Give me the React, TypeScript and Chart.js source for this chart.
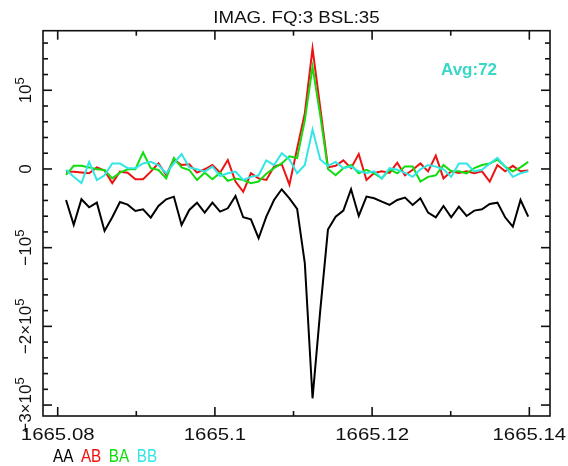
import React, { useEffect, useRef } from "react";
import { Chart, registerables } from "chart.js";

Chart.register(...registerables);

// ---------- data ----------
const FREQ = [
  1665.08106, 1665.08204, 1665.08302, 1665.084, 1665.08498, 1665.08596, 1665.08694, 1665.08792,
  1665.0889, 1665.08988, 1665.09086, 1665.09184, 1665.09282, 1665.0938, 1665.09478, 1665.09576,
  1665.09674, 1665.09772, 1665.0987, 1665.09968, 1665.10066, 1665.10164, 1665.10262, 1665.1036,
  1665.10458, 1665.10556, 1665.10654, 1665.10752, 1665.1085, 1665.10948, 1665.11046, 1665.11144,
  1665.11242, 1665.1134, 1665.11438, 1665.11536, 1665.11634, 1665.11732, 1665.1183, 1665.11928,
  1665.12026, 1665.12124, 1665.12222, 1665.1232, 1665.12418, 1665.12516, 1665.12614, 1665.12712,
  1665.1281, 1665.12908, 1665.13006, 1665.13104, 1665.13202, 1665.133, 1665.13398, 1665.13496,
  1665.13594, 1665.13692, 1665.1379, 1665.13888, 1665.13986,
];

const AA = [
  -39400, -71000, -38500, -48700, -42800, -78800, -61400, -41900, -45300, -53400, -51300, -61800,
  -47000, -38500, -35200, -71200, -52100, -42800, -55500, -42800, -54200, -50000, -34300, -61400,
  -64000, -88000, -60600, -39400, -25800, -37300, -50800, -120000, -291400, -180000, -77000, -60600,
  -52900, -25800, -59700, -35100, -37300, -41500, -45700, -39400, -36400, -45700, -37300, -55500,
  -61400, -47000, -61400, -47900, -59700, -52900, -51300, -44500, -42800, -61400, -73300, -39400,
  -60600,
];

const AB = [
  -3400, -3400, -4500, -5500, 2000, -2000, -18000, -3400, -4700, -13000, -13000, -3400,
  7200, -7600, 12000, 5000, 6000, -4700, -400, 5000, -4700, 11400, -16000, -29000,
  -5500, -12000, -14000, 3000, 6000, -20000, 26000, 71000, 153000, 78000, 2000, 4000,
  11000, 1000, 19000, -14000, -5000, -3000, -5000, 8000, -8000, -1000, 7000, -3000,
  17000, -12000, -3000, -5000, -3000, -5500, -3000, -16000, 5000, -3000, 4000, -3000,
  -2000,
];

const BA = [
  -7600, 4000, 4000, 2000, -400, -1300, -12000, -4700, -400, -400, 21000, 1000,
  -1300, -12000, 14000, 2000, -1300, -14000, -4700, -13000, -4700, -15000, -12000, -14000,
  -18000, -16000, -6000, 1000, 7000, 16000, 14000, 62000, 130000, 68000, 0, -8000,
  1000, 5000, -5500, -1000, -5500, -12000, -400, -5500, 3000, 3000, -16000, -10000,
  -8000, 5000, -3000, -3000, -5500, 1000, 5000, 7000, 12000, 3000, -3000, 2000,
  9000,
];

const BB = [
  -1000, -10000, -18000, 9000, -14000, -8000, 7000, 7000, 1000, 1000, 7000, 9000,
  5000, -5500, 7000, 19000, 2000, -400, -3400, 3000, -9000, -5500, -3400, -14000,
  -10000, -8000, 11000, 5000, 20000, 12000, -5500, 5000, 50000, 12000, 4000, 9000,
  1000, 3000, -3000, -5000, -3000, -12000, 1000, -1000, -5000, -10000, -400, 5000,
  3000, -400, -10000, 7000, 7000, -3000, -1000, 7000, 14000, 3000, -10000, -5500,
  -3000,
];

const SERIES_NAMES = ["AA", "AB", "BA", "BB"];
const SERIES_VALUES = [AA, AB, BA, BB];
const SERIES_COLORS = ["#000000", "#ee1111", "#11dd11", "#33e6e6"];

const X_MIN = 1665.07813;
const X_MAX = 1665.14263;
const Y_MIN = -313900;
const Y_MAX = 175700;

const X_MAJOR = [1665.08, 1665.1, 1665.12, 1665.14];
const X_LABELS = ["1665.08", "1665.1", "1665.12", "1665.14"];
const X_MINOR = [1665.09, 1665.11, 1665.13];
const Y_MAJOR = [100000, 0, -100000, -200000, -300000];
const Y_LABELS: [string, string][] = [
  ["10", "5"],
  ["0", ""],
  ["\u221210", "5"],
  ["\u22122\u00d710", "5"],
  ["\u22123\u00d710", "5"],
];
const Y_MINOR_STEP = 20000;

const TITLE = "IMAG. FQ:3 BSL:35";
const AVG_TEXT = "Avg:72";
const AVG_COLOR = "#3ad6c6";
const FONT = '"Liberation Sans", Arial, sans-serif';

function drawText(
  ctx: CanvasRenderingContext2D,
  s: string,
  x: number,
  y: number,
  font: string,
  color: string,
  align: "left" | "center",
  sx: number
) {
  ctx.save();
  ctx.font = font;
  ctx.fillStyle = color;
  ctx.textBaseline = "alphabetic";
  ctx.textAlign = "left";
  ctx.translate(x, y);
  ctx.scale(sx, 1);
  const w = ctx.measureText(s).width;
  ctx.fillText(s, align === "center" ? -w / 2 : 0, 0);
  ctx.restore();
  return w * sx;
}

const overlay = {
  id: "overlay",
  afterDraw(chart: any) {
    const { ctx, chartArea: a, scales } = chart;
    const xs = scales.x;
    const ys = scales.y;
    ctx.save();
    ctx.strokeStyle = "#111";
    ctx.lineWidth = 1.6;
    ctx.strokeRect(a.left, a.top, a.right - a.left, a.bottom - a.top);

    const seg = (x1: number, y1: number, x2: number, y2: number) => {
      ctx.beginPath();
      ctx.moveTo(x1, y1);
      ctx.lineTo(x2, y2);
      ctx.stroke();
    };
    const xTick = (v: number, len: number) => {
      const x = xs.getPixelForValue(v);
      seg(x, a.bottom, x, a.bottom - len);
      seg(x, a.top, x, a.top + len);
    };
    const yTick = (v: number, len: number) => {
      const y = ys.getPixelForValue(v);
      seg(a.left, y, a.left + len, y);
      seg(a.right, y, a.right - len, y);
    };
    X_MAJOR.forEach((v) => xTick(v, 9));
    X_MINOR.forEach((v) => xTick(v, 5));
    for (let v = Math.ceil(Y_MIN / Y_MINOR_STEP) * Y_MINOR_STEP; v <= Y_MAX; v += Y_MINOR_STEP) {
      if (Y_MAJOR.indexOf(v) >= 0) continue;
      yTick(v, 5);
    }
    Y_MAJOR.forEach((v) => yTick(v, 9));
    ctx.restore();

    // x tick labels
    X_MAJOR.forEach((v, i) => {
      drawText(ctx, X_LABELS[i], xs.getPixelForValue(v), a.bottom + 23.5, `17px ${FONT}`, "#111", "center", 1.2);
    });

    // y tick labels (rotated)
    Y_MAJOR.forEach((v, i) => {
      const y = ys.getPixelForValue(v);
      const [main, sup] = Y_LABELS[i];
      ctx.save();
      ctx.translate(a.left - 12, y);
      ctx.rotate(-Math.PI / 2);
      ctx.fillStyle = "#111";
      ctx.textBaseline = "alphabetic";
      ctx.textAlign = "left";
      ctx.font = `17px ${FONT}`;
      const wm = ctx.measureText(main).width;
      ctx.font = `13px ${FONT}`;
      const ws = sup ? ctx.measureText(sup).width : 0;
      const start = -(wm + ws) / 2;
      ctx.font = `17px ${FONT}`;
      ctx.fillText(main, start, 0);
      if (sup) {
        ctx.font = `13px ${FONT}`;
        ctx.fillText(sup, start + wm, -7);
      }
      ctx.restore();
    });

    // title
    drawText(ctx, TITLE, (a.left + a.right) / 2, 23, `17px ${FONT}`, "#111", "center", 1.1);

    // Avg text
    drawText(ctx, AVG_TEXT, 441, 75, `bold 17px ${FONT}`, AVG_COLOR, "left", 1.0);

    // legend
    let lx = 53;
    SERIES_NAMES.forEach((name, i) => {
      const w = drawText(ctx, name, lx, 461.5, `18px ${FONT}`, SERIES_COLORS[i], "left", 0.85);
      lx += w + 7.5;
    });
  },
};

export default function App() {
  const ref = useRef<HTMLCanvasElement | null>(null);
  useEffect(() => {
    if (!ref.current) return;
    const datasets = SERIES_NAMES.map((name, i) => ({
      label: name,
      data: FREQ.map((f, j) => ({ x: f, y: SERIES_VALUES[i][j] })),
      borderColor: SERIES_COLORS[i],
      backgroundColor: SERIES_COLORS[i],
      borderWidth: 2,
      pointRadius: 0,
      tension: 0,
      fill: false,
      order: SERIES_NAMES.length - 1 - i,
    }));
    const chart = new Chart(ref.current, {
      type: "line",
      data: { datasets },
      options: {
        responsive: false,
        animation: false,
        layout: { padding: { left: 43, top: 30.7, right: 18, bottom: 50 } },
        plugins: {
          legend: { display: false },
          tooltip: { enabled: false },
          title: { display: false },
        },
        scales: {
          x: { type: "linear", min: X_MIN, max: X_MAX, display: false },
          y: { type: "linear", min: Y_MIN, max: Y_MAX, display: false },
        },
      },
      plugins: [overlay],
    });
    return () => chart.destroy();
  }, []);
  return (
    <div style={{ position: "fixed", left: 0, top: 0, width: 568, height: 466, background: "#fff" }}>
      <canvas ref={ref} width={568} height={466} style={{ display: "block" }} />
    </div>
  );
}
